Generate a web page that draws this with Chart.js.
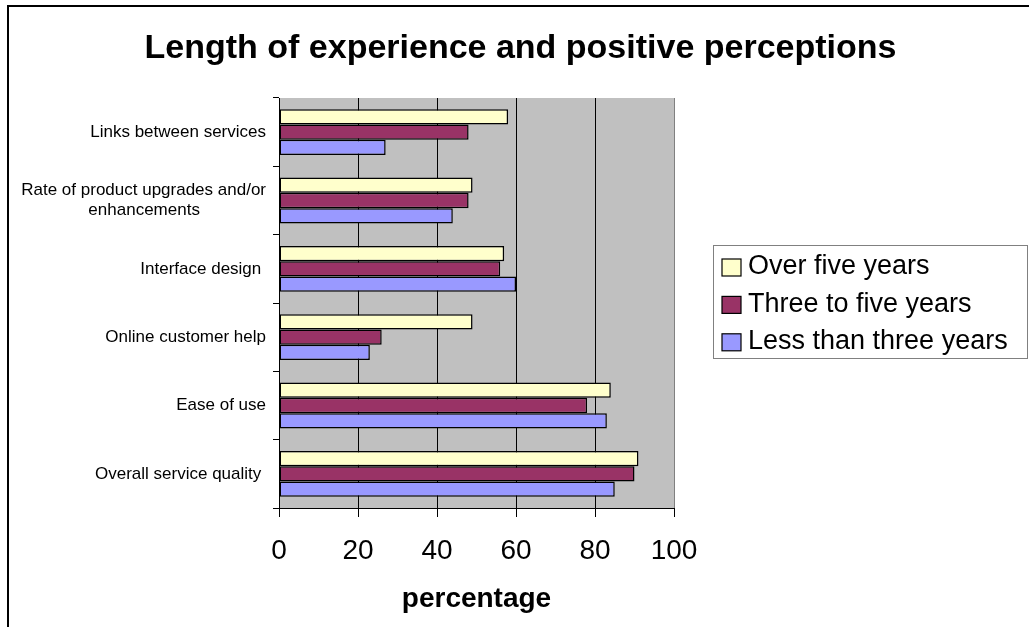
<!DOCTYPE html>
<html>
<head>
<meta charset="utf-8">
<title>Length of experience and positive perceptions</title>
<script src="https://cdn.jsdelivr.net/npm/chart.js@4.4.1/dist/chart.umd.min.js"></script>
<style>
  html, body { margin: 0; padding: 0; background: #ffffff; }
  canvas { display: block; }
</style>
</head>
<body>
<canvas id="chart" width="1029" height="627"></canvas>
<script>
// Survey categories, top to bottom (a nested array is a two-line label)
const categories = [
  'Links between services',
  ['Rate of product upgrades and/or', 'enhancements'],
  'Interface design ',
  'Online customer help',
  'Ease of use',
  'Overall service quality '
];
const seriesNames = ['Over five years', 'Three to five years', 'Less than three years'];

// Percentage of positive perceptions per group
const overFiveYears      = [58, 49, 57, 49, 84, 91];
const threeToFiveYears   = [48, 48, 56, 26, 78, 90];
const lessThanThreeYears = [27, 44, 60, 23, 83, 85];

const xTickValues = [0, 20, 40, 60, 80, 100];

const seriesColors = ['#FFFFCC', '#993366', '#9999FF'];
const FONT = '"Liberation Sans", Arial, Helvetica, sans-serif';
const LABEL_SIZE = 17;

// Pad the shorter lines of a multi-line label so the block reads centred
const measureCtx = document.createElement('canvas').getContext('2d');
measureCtx.font = LABEL_SIZE + 'px ' + FONT;
function centreLines(label) {
  if (!Array.isArray(label)) return label;
  const widths = label.map(l => measureCtx.measureText(l).width);
  const maxW = Math.max(...widths);
  const sp = measureCtx.measureText(' ').width;
  return label.map((l, i) => l + ' '.repeat(Math.round((maxW - widths[i]) / 2 / sp)));
}

// White page, grey plot area and the outer frame
const framePlugin = {
  id: 'frame',
  beforeDraw(chart) {
    const { ctx, chartArea: a } = chart;
    ctx.save();
    ctx.fillStyle = '#ffffff';
    ctx.fillRect(0, 0, chart.width, chart.height);
    ctx.fillStyle = '#C0C0C0';
    ctx.fillRect(a.left, a.top, a.right - a.left, a.bottom - a.top);
    ctx.restore();
  },
  afterDraw(chart) {
    const ctx = chart.ctx;
    ctx.save();
    ctx.strokeStyle = '#000000';
    ctx.lineWidth = 2;
    ctx.strokeRect(8, 6, chart.width + 40, chart.height + 40);
    ctx.restore();
  }
};

// Boxed legend on the right, reserved as a layout box
const legendPanel = {
  id: 'legendPanel',
  start(chart) {
    const box = {
      position: 'right',
      weight: 100,
      fullSize: false,
      options: {},
      left: 0, top: 0, right: 0, bottom: 0, width: 0, height: 0,
      isHorizontal() { return false; },
      update(maxWidth, maxHeight) { this.width = 355; this.height = maxHeight; },
      draw() {
        const ctx = chart.ctx;
        const a = chart.chartArea;
        const w = 314, h = 113;
        const x = this.left + 39;
        const y = (a.top + a.bottom) / 2 - h / 2 - 1.5;
        ctx.save();
        ctx.fillStyle = '#ffffff';
        ctx.fillRect(x, y, w, h);
        ctx.strokeStyle = '#808080';
        ctx.lineWidth = 1;
        ctx.strokeRect(x + 0.5, y + 0.5, w, h);
        ctx.font = '27px ' + FONT;
        ctx.textBaseline = 'middle';
        ctx.textAlign = 'left';
        chart.data.datasets.forEach((ds, i) => {
          const cy = y + 22 + i * 37.4;
          ctx.fillStyle = ds.backgroundColor;
          ctx.fillRect(x + 9, cy - 8, 19, 17);
          ctx.strokeStyle = '#000000';
          ctx.lineWidth = 1.2;
          ctx.strokeRect(x + 9, cy - 8, 19, 17);
          ctx.fillStyle = '#000000';
          ctx.fillText(ds.label, x + 35, cy);
        });
        ctx.restore();
      }
    };
    Chart.layouts.addBox(chart, box);
  }
};

const seriesValues = [overFiveYears, threeToFiveYears, lessThanThreeYears];

new Chart(document.getElementById('chart'), {
  type: 'bar',
  data: {
    labels: categories,
    datasets: seriesNames.map((name, i) => ({
      label: name,
      data: seriesValues[i],
      backgroundColor: seriesColors[i],
      borderColor: '#000000',
      borderWidth: 1.5,
      borderSkipped: false,
      barPercentage: 1.0,
      categoryPercentage: 0.67
    }))
  },
  plugins: [framePlugin, legendPanel],
  options: {
    indexAxis: 'y',
    responsive: false,
    animation: false,
    events: [],
    layout: { padding: { left: 12, top: 0, right: 0, bottom: 0 } },
    plugins: {
      legend: { display: false },
      tooltip: { enabled: false },
      title: {
        display: true,
        text: 'Length of experience and positive perceptions',
        color: '#000000',
        font: { family: FONT, size: 34, weight: 'bold', lineHeight: 1.2 },
        padding: { top: 28, bottom: 29.2 }
      }
    },
    scales: {
      x: {
        type: 'linear',
        position: 'bottom',
        min: 0,
        max: 100,
        afterBuildTicks(scale) { scale.ticks = xTickValues.map(v => ({ value: v })); },
        afterFit(scale) { scale.height = 119; },
        grid: {
          color: ctx => (ctx.tick && ctx.tick.value === 100) ? '#808080' : '#000000',
          tickColor: '#000000',
          lineWidth: 1,
          tickLength: 9
        },
        border: { color: '#000000', width: 1 },
        ticks: {
          color: '#000000',
          font: { family: FONT, size: 28 },
          padding: 17,
          maxRotation: 0
        },
        title: {
          display: true,
          text: 'percentage',
          color: '#000000',
          font: { family: FONT, size: 28, weight: 'bold' },
          padding: { top: 0, bottom: 11 }
        }
      },
      y: {
        type: 'category',
        afterFit(scale) { scale.width = 267; },
        grid: {
          display: true,
          drawOnChartArea: false,
          offset: true,
          tickLength: 6,
          color: '#000000'
        },
        border: { color: '#000000', width: 1 },
        ticks: {
          color: '#000000',
          autoSkip: false,
          padding: 7,
          font: { family: FONT, size: LABEL_SIZE, lineHeight: 1.15 },
          callback(value) { return centreLines(this.getLabelForValue(value)); }
        }
      }
    }
  }
});
</script>
</body>
</html>
